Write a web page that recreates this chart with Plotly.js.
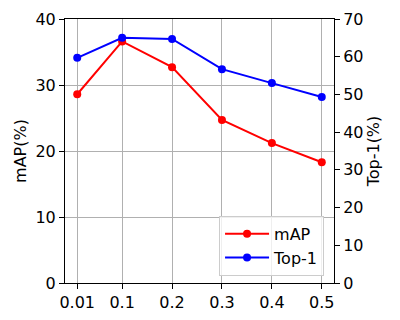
<!DOCTYPE html>
<html>
<head>
<meta charset="utf-8">
<script src="https://cdn.plot.ly/plotly-3.0.1.min.js"></script>
<style>body{margin:0;} #grafica{width:400px;height:320px;}</style>
</head>
<body>
<div id="grafica"></div>
<script>
// ratios on x, mAP (left axis) and Top-1 (right axis)
const ratios = [0.01, 0.1, 0.2, 0.3, 0.4, 0.5];
const tickLabels = ['0.01', '0.1', '0.2', '0.3', '0.4', '0.5'];
const mapValues = [28.6, 36.6, 32.7, 24.7, 21.2, 18.3];
const top1Values = [59.7, 65.0, 64.7, 56.7, 53.0, 49.3];

const fuente = {family: 'DejaVu Sans, sans-serif', size: 16, color: '#000'};

const trazaMap = {
    x: ratios, y: mapValues, name: 'mAP',
    type: 'scatter', mode: 'lines+markers',
    line: {color: '#ff0000', width: 2},
    marker: {color: '#ff0000', size: 8}
};
const trazaTop1 = {
    x: ratios, y: top1Values, name: 'Top-1', yaxis: 'y2',
    type: 'scatter', mode: 'lines+markers',
    line: {color: '#0000ff', width: 2},
    marker: {color: '#0000ff', size: 8}
};

const layout = {
    width: 400, height: 320,
    margin: {l: 65, r: 66, t: 19, b: 37},
    paper_bgcolor: '#fff', plot_bgcolor: '#fff',
    font: fuente,
    showlegend: true,
    legend: {
        x: 0.963, y: 0.027, xanchor: 'right', yanchor: 'bottom',
        bgcolor: 'rgba(255,255,255,0.8)', bordercolor: '#cccccc', borderwidth: 1,
        font: fuente, tracegroupgap: 0, itemwidth: 44
    },
    xaxis: {
        range: [-0.0145, 0.5245], tickvals: ratios, ticktext: tickLabels,
        showline: true, mirror: true, linecolor: '#000', linewidth: 1,
        ticks: 'outside', ticklen: 5, tickcolor: '#000',
        showgrid: true, gridcolor: '#b0b0b0', gridwidth: 1, zeroline: false,
        tickfont: fuente
    },
    yaxis: {
        range: [0, 40], tickvals: [0, 10, 20, 30, 40],
        title: {text: 'mAP(%)', font: fuente, standoff: 4},
        showline: true, linecolor: '#000', linewidth: 1,
        ticks: 'outside', ticklen: 5, tickcolor: '#000',
        showgrid: true, gridcolor: '#b0b0b0', gridwidth: 1, zeroline: false,
        tickfont: fuente
    },
    yaxis2: {
        range: [0, 70], tickvals: [0, 10, 20, 30, 40, 50, 60, 70],
        overlaying: 'y', side: 'right',
        title: {text: 'Top-1(%)', font: fuente, standoff: 4},
        showline: true, linecolor: '#000', linewidth: 1,
        ticks: 'outside', ticklen: 5, tickcolor: '#000',
        showgrid: false, zeroline: false,
        tickfont: fuente
    }
};

Plotly.newPlot('grafica', [trazaMap, trazaTop1], layout, {displayModeBar: false, staticPlot: true});
</script>
</body>
</html>
